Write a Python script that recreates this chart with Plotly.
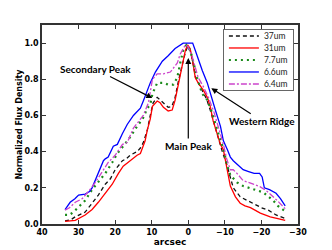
import plotly.graph_objects as go

# ---- data (arcsec offset, normalized flux density) ----
x_37 = [33.7, 32, 30.9, 28.2, 26.3, 24.6, 22.7, 21.3, 20, 18, 17, 15.9, 14, 13.1, 12.3, 11.2, 10.4, 9.6, 8.5, 7.5, 6.5, 5.5, 4.5, 3.6, 2.7, 1.6, 0.8, 0.2, -0.5, -1.2, -2, -3, -4, -5, -6, -7, -8, -9.3, -10.5, -12.3, -14.2, -16, -18, -20, -22, -24, -26.5]
y_37 = [0.017, 0.025, 0.04, 0.066, 0.115, 0.16, 0.22, 0.25, 0.30, 0.35, 0.36, 0.38, 0.40, 0.42, 0.45, 0.52, 0.60, 0.67, 0.70, 0.68, 0.66, 0.645, 0.65, 0.70, 0.79, 0.88, 0.95, 0.98, 0.96, 0.90, 0.81, 0.77, 0.73, 0.69, 0.63, 0.56, 0.48, 0.40, 0.33, 0.20, 0.15, 0.13, 0.11, 0.09, 0.075, 0.05, 0.03]

x_31 = [33.7, 32, 30.9, 28.2, 26.3, 24.6, 22.7, 20.8, 19.1, 17.8, 16.5, 15.3, 14, 13.1, 12.3, 11.8, 11.2, 10.4, 9.8, 9.0, 8.5, 7.7, 6.8, 5.5, 4.4, 3.6, 2.7, 1.6, 0.8, 0.2, -0.5, -1.1, -1.9, -2.7, -4.1, -5.2, -6.0, -6.8, -7.9, -8.8, -9.6, -10.7, -11.5, -12.9, -14.2, -15.5, -17, -19.7, -22.4, -24.5, -26.5]
y_31 = [0.015, 0.018, 0.02, 0.05, 0.08, 0.12, 0.17, 0.22, 0.28, 0.32, 0.34, 0.36, 0.38, 0.39, 0.43, 0.46, 0.52, 0.58, 0.65, 0.67, 0.68, 0.67, 0.645, 0.625, 0.63, 0.685, 0.78, 0.88, 0.96, 0.99, 0.97, 0.91, 0.81, 0.78, 0.74, 0.70, 0.65, 0.57, 0.50, 0.44, 0.41, 0.30, 0.21, 0.15, 0.115, 0.10, 0.09, 0.06, 0.04, 0.03, 0.02]

x_77 = [33.7, 32.5, 31.4, 30, 28.2, 26.3, 24.6, 22.7, 20.8, 19.4, 17.8, 15.9, 14, 12.5, 11.2, 10.4, 9.8, 8.5, 6.8, 5.5, 4.1, 3.0, 2.2, 1.4, 0.5, 0, -0.7, -1.4, -2.4, -3.8, -5.2, -6.6, -7.9, -8.8, -9.6, -10.5, -11.5, -13.3, -15, -17.8, -20.5, -22, -23.2, -24.5, -26.5]
y_77 = [0.05, 0.05, 0.066, 0.094, 0.13, 0.19, 0.23, 0.28, 0.34, 0.39, 0.43, 0.48, 0.54, 0.58, 0.64, 0.66, 0.72, 0.78, 0.78, 0.77, 0.77, 0.81, 0.89, 0.96, 0.99, 0.98, 0.95, 0.89, 0.81, 0.72, 0.685, 0.61, 0.52, 0.46, 0.42, 0.33, 0.27, 0.23, 0.21, 0.19, 0.175, 0.15, 0.13, 0.10, 0.07]

x_66 = [33.7, 32.3, 31, 30, 28.2, 27, 26.3, 24.6, 23.2, 22.7, 21.9, 20.5, 19.4, 18, 16.7, 15, 13.1, 12.3, 10.4, 9.0, 7.1, 5.5, 3.6, 1.4, 0, -1.2, -1.9, -2.7, -3.8, -5.2, -6.0, -7.4, -8.8, -9.6, -10.7, -11.5, -12.3, -13.5, -15, -16.5, -18, -19.5, -20.2, -20.8, -22.2, -24, -25.2, -26.5]
y_66 = [0.08, 0.12, 0.14, 0.16, 0.165, 0.18, 0.20, 0.28, 0.35, 0.36, 0.37, 0.43, 0.44, 0.50, 0.55, 0.60, 0.64, 0.68, 0.78, 0.84, 0.90, 0.93, 0.97, 1.0, 1.0, 1.0, 0.96, 0.91, 0.85, 0.78, 0.72, 0.63, 0.54, 0.46, 0.41, 0.37, 0.35, 0.33, 0.30, 0.29, 0.28, 0.28, 0.26, 0.20, 0.19, 0.17, 0.14, 0.10]

x_64 = [33.7, 32.5, 30.9, 29, 27.3, 25.4, 23.5, 21.9, 20, 18, 16.7, 15, 12.3, 10.9, 9.8, 8.5, 6.8, 4.9, 3.0, 2.2, 0.8, 0, -1, -2.7, -4.1, -5.5, -7, -8.5, -9.6, -10.5, -11.5, -12.3, -13.3, -15, -16.7, -17.8, -19.7, -21.6, -24.3, -26.5]
y_64 = [0.077, 0.09, 0.12, 0.14, 0.18, 0.23, 0.29, 0.34, 0.38, 0.44, 0.45, 0.53, 0.60, 0.67, 0.80, 0.83, 0.83, 0.84, 0.89, 0.94, 0.99, 0.98, 0.93, 0.81, 0.76, 0.70, 0.62, 0.52, 0.44, 0.36, 0.30, 0.30, 0.28, 0.24, 0.23, 0.22, 0.205, 0.18, 0.13, 0.085]

x_ticks = [40, 30, 20, 10, 0, -10, -20, -30]
y_ticks = [0.0, 0.2, 0.4, 0.6, 0.8, 1.0]

series = [
    ("37um", x_37, y_37, "#111111", "4px,3px", 1.3),
    ("31um", x_31, y_31, "#ff0000", "solid", 1.3),
    ("7.7um", x_77, y_77, "#1a8a1a", "2px,4px", 2.2),
    ("6.6um", x_66, y_66, "#0000ff", "solid", 1.3),
    ("6.4um", x_64, y_64, "#cc44cc", "6px,2px,2px,2px", 1.3),
]

fig = go.Figure()
for name, xs, ys, col, dash, w in series:
    fig.add_trace(go.Scatter(x=xs, y=ys, mode="lines", name=name,
                             line=dict(color=col, dash=dash, width=w)))

axis_common = dict(showline=True, mirror="ticks", linecolor="#333333", linewidth=1.5,
                   ticks="inside", ticklen=4, tickwidth=1, tickcolor="#333333",
                   showgrid=False, zeroline=False, automargin=False,
                   tickfont=dict(family="DejaVu Sans", size=8, color="#000", weight="bold"))

fig.update_xaxes(range=[40, -30], tickvals=x_ticks,
                 title=dict(text="arcsec", standoff=0,
                            font=dict(family="DejaVu Sans", size=9, color="#000", weight="bold")),
                 **axis_common)
fig.update_yaxes(range=[0, 1.1], tickvals=y_ticks, tickformat=".1f",
                 title=dict(text="Normalized Flux Density", standoff=0,
                            font=dict(family="DejaVu Sans", size=8, color="#000", weight="bold")),
                 **axis_common)

ann_font = dict(family="Lato", size=10, color="#000", weight="bold")
arrow = dict(showarrow=True, arrowhead=2, arrowsize=1, arrowwidth=1.2, arrowcolor="#000")
fig.add_annotation(x=9.84, y=0.696, ax=-57, ay=-29, text="Secondary Peak", font=ann_font, **arrow)
fig.add_annotation(x=0, y=0.917, ax=0, ay=88, text="Main Peak", font=ann_font, **arrow)
fig.add_annotation(x=-6.3, y=0.751, ax=51, ay=33, text="Western Ridge", font=ann_font, **arrow)

fig.update_layout(
    width=332, height=250,
    margin=dict(l=42, r=34, t=25, b=26),
    paper_bgcolor="white", plot_bgcolor="white",
    legend=dict(x=0.984, y=0.98, xanchor="right", yanchor="top",
                bgcolor="white", bordercolor="#666666", borderwidth=1,
                font=dict(family="Lato", size=8.5, color="#222")),
)

post = """
document.body.style.margin = '0';
document.body.style.padding = '0';
var gd = document.getElementById('{plot_id}');
var tr = gd.querySelectorAll('.legend .traces');
if (tr.length) {
  var m = /translate\\(\\s*([-\\d.e]+)[ ,]+([-\\d.e]+)\\)/.exec(tr[0].getAttribute('transform'));
  var x0 = m ? parseFloat(m[1]) : 0;
  var y0 = 7, step = 12;
  tr.forEach(function(el, i){ el.setAttribute('transform', 'translate(' + x0 + ',' + (y0 + i*step) + ')'); });
  var bg = gd.querySelector('.legend .bg');
  if (bg) { bg.setAttribute('height', y0 + (tr.length-1)*step + 6); }
}
"""
fig.write_html("out.html", post_script=post, config={"displayModeBar": False})
